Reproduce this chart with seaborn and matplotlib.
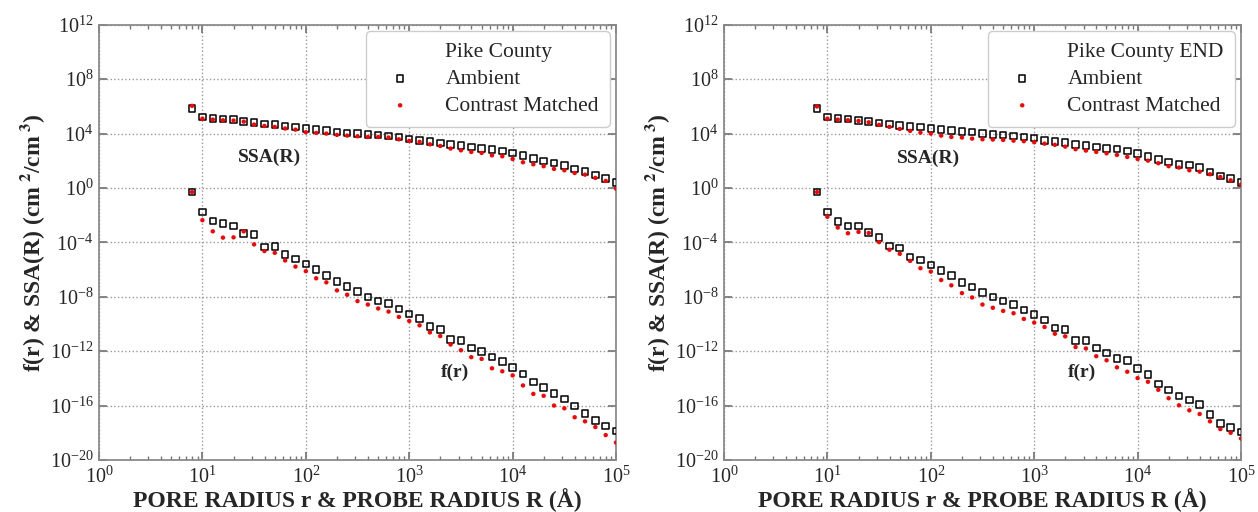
import matplotlib
matplotlib.use("Agg")
import matplotlib.pyplot as plt
import matplotlib.ticker as mticker
import numpy as np
import seaborn as sns

# radius values (Angstrom), ten per decade
radius = [7.94, 10, 12.6, 15.8, 20, 25.1, 31.6, 39.8, 50.1, 63.1,
          79.4, 100, 126, 158, 200, 251, 316, 398, 501, 631,
          794, 1000, 1259, 1585, 1995, 2512, 3162, 3981, 5012, 6310,
          7943, 10000, 12589, 15849, 19953, 25119, 31623, 39811, 50119, 63096,
          79433, 100000]

# values as log10
# left panel: Pike County
ssa_amb_L = [5.84, 5.23, 5.10, 5.06, 5.03, 4.88, 4.83, 4.71, 4.66, 4.56, 4.49, 4.39, 4.29, 4.22,
             4.12, 4.05, 4.00, 3.95, 3.90, 3.83, 3.75, 3.61, 3.51, 3.41, 3.31, 3.21, 3.12, 3.02,
             2.92, 2.82, 2.72, 2.58, 2.38, 2.18, 1.99, 1.84, 1.67, 1.40, 1.20, 0.96, 0.71, 0.42]
ssa_cm_L = [6.04, 5.10, 5.03, 4.98, 4.96, 4.88, 4.66, 4.56, 4.49, 4.37, 4.29, 4.10, 4.05, 4.00,
            3.90, 3.85, 3.80, 3.75, 3.75, 3.71, 3.58, 3.46, 3.39, 3.21, 3.09, 2.90, 2.77, 2.65,
            2.58, 2.40, 2.33, 2.13, 1.89, 1.74, 1.60, 1.40, 1.30, 1.10, 0.98, 0.74, 0.52, -0.05]
fr_amb_L = [-0.30, -1.78, -2.44, -2.62, -2.79, -3.36, -3.43, -4.35, -4.30, -4.91, -5.21, -5.60,
            -5.98, -6.42, -6.86, -7.26, -7.63, -8.00, -8.30, -8.49, -8.91, -9.28, -9.60, -10.17,
            -10.40, -11.16, -11.21, -11.75, -12.02, -12.44, -12.74, -13.19, -13.68, -14.25,
            -14.67, -15.11, -15.53, -16.02, -16.59, -17.11, -17.51, -17.88]
fr_cm_L = [-0.30, -2.37, -3.19, -3.65, -3.63, -3.19, -4.15, -4.64, -4.77, -5.33, -5.78, -6.12,
           -6.64, -6.94, -7.53, -7.85, -8.32, -8.57, -8.86, -9.09, -9.48, -9.78, -10.10, -10.62,
           -10.89, -11.51, -11.93, -12.44, -12.57, -13.26, -13.48, -13.78, -14.52, -15.14,
           -15.28, -16.00, -16.20, -16.86, -17.16, -17.58, -18.17, -18.72]

# right panel: Pike County END
ssa_amb_R = [5.84, 5.23, 5.10, 5.06, 4.98, 4.88, 4.79, 4.69, 4.61, 4.52, 4.47, 4.39, 4.29, 4.22,
             4.17, 4.10, 4.00, 3.95, 3.90, 3.83, 3.75, 3.66, 3.51, 3.41, 3.36, 3.21, 3.12, 3.02,
             2.92, 2.85, 2.72, 2.53, 2.33, 2.09, 1.91, 1.74, 1.69, 1.50, 1.18, 0.88, 0.71, 0.42]
ssa_cm_R = [5.99, 5.10, 5.03, 4.98, 4.93, 4.83, 4.64, 4.49, 4.34, 4.20, 4.07, 4.00, 3.85, 3.75,
            3.71, 3.63, 3.58, 3.56, 3.53, 3.48, 3.44, 3.36, 3.26, 3.17, 3.04, 2.85, 2.75, 2.65,
            2.55, 2.43, 2.28, 2.13, 2.01, 1.82, 1.60, 1.50, 1.30, 1.20, 1.01, 0.81, 0.56, 0.25]
fr_amb_R = [-0.30, -1.78, -2.47, -2.81, -2.81, -3.28, -3.63, -4.27, -4.40, -5.09, -5.28, -5.65,
            -6.07, -6.42, -6.96, -7.28, -7.70, -8.02, -8.30, -8.57, -8.96, -9.31, -9.70, -10.30,
            -10.42, -11.21, -11.23, -11.75, -12.12, -12.52, -12.67, -13.26, -13.70, -14.40,
            -14.86, -15.31, -15.58, -15.93, -16.64, -17.33, -17.63, -17.93]
fr_cm_R = [-0.30, -2.12, -2.91, -3.33, -3.23, -3.31, -3.98, -4.54, -4.84, -5.36, -5.90, -6.15,
           -6.77, -7.16, -7.73, -8.05, -8.57, -8.81, -9.04, -9.21, -9.63, -9.90, -10.22, -10.72,
           -10.91, -11.70, -11.80, -12.37, -12.67, -13.19, -13.51, -13.98, -14.25, -14.84,
           -15.46, -15.98, -16.35, -16.62, -17.16, -17.73, -18.00, -18.42]

titles = ["Pike County", "Pike County END"]
ytick_vals = [1e-20, 1e-16, 1e-12, 1e-8, 1e-4, 1e0, 1e4, 1e8, 1e12]

sns.set_theme(style="ticks")
plt.rcParams["font.family"] = ["Liberation Serif", "DejaVu Serif"]
plt.rcParams["mathtext.fontset"] = "stix"

fig = plt.figure(figsize=(12.58, 5.12), dpi=100)
ax1 = fig.add_axes([0.0787, 0.1016, 0.411, 0.85])
ax2 = fig.add_axes([0.5755, 0.1016, 0.411, 0.85])

panels = [(ax1, ssa_amb_L, ssa_cm_L, fr_amb_L, fr_cm_L, (45, 10**2.25), (2750, 10**-13.55)),
          (ax2, ssa_amb_R, ssa_cm_R, fr_amb_R, fr_cm_R, (95, 10**2.2), (2900, 10**-13.55))]

r = np.array(radius)
for i, (ax, sa, sc, fa, fc, pos_ssa, pos_fr) in enumerate(panels):
    ax.plot([], [], " ", label=titles[i])
    # ambient: open black squares
    sns.scatterplot(x=r, y=10**np.array(sa), marker="s", s=22, facecolor="none",
                    edgecolor="black", linewidth=1.1, ax=ax, label="Ambient", zorder=3)
    sns.scatterplot(x=r, y=10**np.array(fa), marker="s", s=22, facecolor="none",
                    edgecolor="black", linewidth=1.1, ax=ax, zorder=3)
    # contrast matched: small red dots
    sns.scatterplot(x=r, y=10**np.array(sc), marker="o", s=10, color="red",
                    edgecolor="none", ax=ax, label="Contrast Matched", zorder=4)
    sns.scatterplot(x=r, y=10**np.array(fc), marker="o", s=10, color="red",
                    edgecolor="none", ax=ax, zorder=4)

    ax.set_xscale("log")
    ax.set_yscale("log")
    ax.set_xlim(1, 1e5)
    ax.set_ylim(1e-20, 1e12)
    ax.yaxis.set_major_locator(mticker.FixedLocator(ytick_vals))
    ax.yaxis.set_minor_locator(mticker.NullLocator())
    ax.yaxis.set_major_formatter(mticker.LogFormatterSciNotation())
    ax.xaxis.set_major_locator(mticker.LogLocator(base=10, numticks=10))
    ax.xaxis.set_minor_locator(mticker.LogLocator(base=10, subs=np.arange(2, 10), numticks=10))
    ax.tick_params(which="both", direction="in", top=True, right=True, color="#777777",
                   labelsize=14.5)
    ax.tick_params(axis="x", pad=5)
    ax.tick_params(axis="y", pad=4)
    ax.tick_params(which="major", length=6)
    ax.tick_params(which="minor", length=3)
    ax.grid(True, which="major", linestyle=":", color="#999999", linewidth=1)
    for sp in ax.spines.values():
        sp.set_color("#888888")

    ax.set_xlabel("PORE RADIUS r & PROBE RADIUS R (Å)", fontsize=17, fontweight="bold",
                  labelpad=0)
    ax.set_ylabel("f(r) & SSA(R) (cm$^{\\ \\mathbf{2}}$/cm$^{\\ \\mathbf{3}}$)", fontsize=17,
                  fontweight="bold", labelpad=2)
    ax.text(*pos_ssa, "SSA(R)", fontsize=14, fontweight="bold", ha="center", va="center")
    ax.text(*pos_fr, "f(r)", fontsize=14, fontweight="bold", ha="center", va="center")

    leg = ax.legend(loc="upper right", fontsize=15.5, frameon=True, framealpha=1,
                    edgecolor="#cccccc", handletextpad=1.0, borderpad=0.5,
                    labelspacing=0.32, handlelength=2.2, borderaxespad=0.3)
    leg.get_frame().set_linewidth(1)

fig.savefig("out.png", dpi=100)
